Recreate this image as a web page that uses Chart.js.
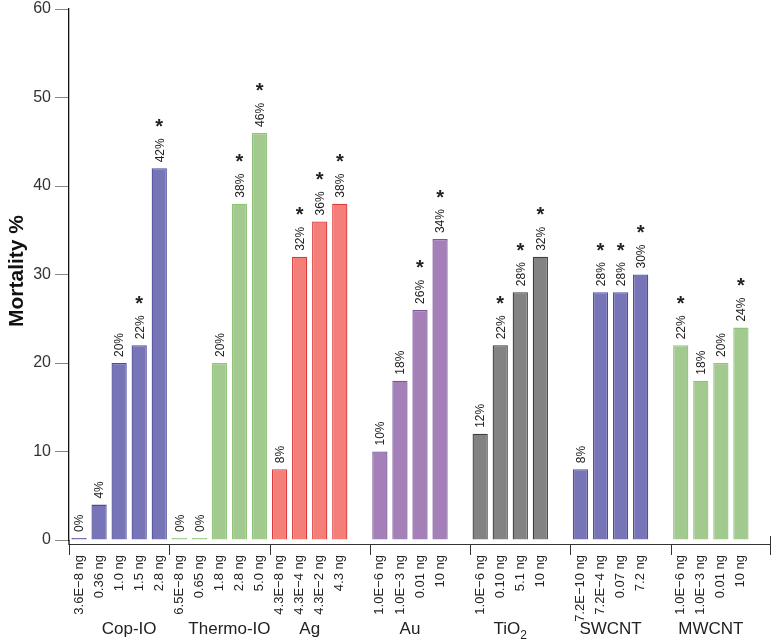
<!DOCTYPE html>
<html>
<head>
<meta charset="utf-8">
<script src="https://cdn.jsdelivr.net/npm/chart.js@4.4.1/dist/chart.umd.min.js"></script>
<style>
  body { margin: 0; background: #fff; }
  #caixa { width: 772px; height: 641px; }
</style>
</head>
<body>
<div id="caixa"><canvas id="graficoMortalidade"></canvas></div>
<script>
// grupos de nanomateriais
const grupos = ['Cop-IO', 'Thermo-IO', 'Ag', 'Au', 'TiO2', 'SWCNT', 'MWCNT']

// doses (rotulos do eixo x) por grupo
const dosesCopIO = ['3.6E\u22128 ng', '0.36 ng', '1.0 ng', '1.5 ng', '2.8 ng']
const dosesThermoIO = ['6.5E\u22128 ng', '0.65 ng', '1.8 ng', '2.8 ng', '5.0 ng']
const dosesAg = ['4.3E\u22128 ng', '4.3E\u22124 ng', '4.3E\u22122 ng', '4.3 ng']
const dosesAu = ['1.0E\u22126 ng', '1.0E\u22123 ng', '0.01 ng', '10 ng']
const dosesTiO2 = ['1.0E\u22126 ng', '0.10 ng', '5.1 ng', '10 ng']
const dosesSWCNT = ['7.2E\u221210 ng', '7.2E\u22124 ng', '0.07 ng', '7.2 ng']
const dosesMWCNT = ['1.0E\u22126 ng', '1.0E\u22123 ng', '0.01 ng', '10 ng']

// mortalidade %
const mortCopIO = [0, 4, 20, 22, 42]
const mortThermoIO = [0, 0, 20, 38, 46]
const mortAg = [8, 32, 36, 38]
const mortAu = [10, 18, 26, 34]
const mortTiO2 = [12, 22, 28, 32]
const mortSWCNT = [8, 28, 28, 30]
const mortMWCNT = [22, 18, 20, 24]

// diferenca significativa (*)
const sigCopIO = [0, 0, 0, 1, 1]
const sigThermoIO = [0, 0, 0, 1, 1]
const sigAg = [0, 1, 1, 1]
const sigAu = [0, 0, 1, 1]
const sigTiO2 = [0, 1, 1, 1]
const sigSWCNT = [0, 1, 1, 1]
const sigMWCNT = [1, 0, 0, 1]

const yTicks = [0, 10, 20, 30, 40, 50, 60]

const doses = [dosesCopIO, dosesThermoIO, dosesAg, dosesAu, dosesTiO2, dosesSWCNT, dosesMWCNT]
const mortalidade = [mortCopIO, mortThermoIO, mortAg, mortAu, mortTiO2, mortSWCNT, mortMWCNT]
const significativo = [sigCopIO, sigThermoIO, sigAg, sigAu, sigTiO2, sigSWCNT, sigMWCNT]

const corFundo = ['#7774b7', '#a2ca8e', '#f37f78', '#a580b8', '#848384', '#7774b7', '#a2ca8e']
const corBorda = ['#4b4a9c', '#90c47a', '#dc3a3c', '#7a559a', '#3e3e3e', '#4b50a6', '#90c47a']

const FONTE = '"Liberation Sans", Arial, sans-serif'
const SLOTS = 5
let labels = [], valores = [], fundos = [], bordas = [], estrelas = []
grupos.forEach((g, i) => {
    for (let k = 0; k < SLOTS; k++) {
        const tem = k < mortalidade[i].length
        labels.push(tem ? doses[i][k] : '')
        valores.push(tem ? mortalidade[i][k] : null)
        fundos.push(corFundo[i])
        bordas.push(corBorda[i])
        estrelas.push(tem ? significativo[i][k] : 0)
    }
})

const desenhos = {
    id: 'desenhos',
    afterDatasetsDraw(chart) {
        const ctx = chart.ctx
        const meta = chart.getDatasetMeta(0)
        ctx.save()
        ctx.fillStyle = '#222'
        meta.data.forEach((bar, i) => {
            const v = valores[i]
            if (v === null) return
            const topo = Math.min(bar.y, bar.base) - 6
            const texto = v + '%'
            ctx.font = '12px ' + FONTE
            const largura = ctx.measureText(texto).width
            ctx.save()
            ctx.translate(bar.x + 1, topo)
            ctx.rotate(-Math.PI / 2)
            ctx.textAlign = 'left'
            ctx.textBaseline = 'middle'
            ctx.fillText(texto, 0, 0)
            ctx.restore()
            if (estrelas[i]) {
                ctx.font = 'bold 20px ' + FONTE
                ctx.textAlign = 'center'
                ctx.textBaseline = 'middle'
                ctx.fillText('*', bar.x, topo - largura - 11)
            }
        })
        ctx.restore()
    },
    afterDraw(chart) {
        const ctx = chart.ctx
        const area = chart.chartArea
        const x = chart.scales.x
        const passo = (area.right - area.left) / labels.length
        const yEixo = area.bottom + 4
        ctx.save()
        ctx.strokeStyle = '#333'
        ctx.lineWidth = 1
        ctx.beginPath()
        ctx.moveTo(area.left, yEixo + 0.5)
        ctx.lineTo(area.right, yEixo + 0.5)
        for (let g = 0; g <= grupos.length; g++) {
            const px = Math.round(area.left + g * SLOTS * passo) + (g === grupos.length ? -0.5 : 0.5)
            ctx.moveTo(px, g === grupos.length ? area.bottom - 4 : yEixo)
            ctx.lineTo(px, yEixo + 11)
        }
        ctx.stroke()
        // prolonga o eixo y ate a linha do eixo x
        ctx.strokeStyle = '#111'
        ctx.lineWidth = 1.3
        ctx.beginPath()
        ctx.moveTo(area.left, area.bottom)
        ctx.lineTo(area.left, yEixo + 1)
        ctx.stroke()

        // nomes dos grupos
        ctx.fillStyle = '#222'
        ctx.textBaseline = 'middle'
        grupos.forEach((g, i) => {
            const n = mortalidade[i].length
            const c = x.getPixelForValue(i * SLOTS + Math.ceil(n / 2)) - passo / 2
            ctx.font = '17px ' + FONTE
            if (g === 'TiO2') {
                const w1 = ctx.measureText('TiO').width
                ctx.font = '12px ' + FONTE
                const w2 = ctx.measureText('2').width
                const ini = c - (w1 + w2) / 2
                ctx.font = '17px ' + FONTE
                ctx.textAlign = 'left'
                ctx.fillText('TiO', ini, 629)
                ctx.font = '12px ' + FONTE
                ctx.fillText('2', ini + w1, 636)
            } else {
                ctx.textAlign = 'center'
                ctx.fillText(g, c, 629)
            }
        })

        // titulo do eixo y
        ctx.font = 'bold 21px ' + FONTE
        ctx.fillStyle = '#111'
        ctx.translate(17, 271)
        ctx.rotate(-Math.PI / 2)
        ctx.textAlign = 'center'
        ctx.textBaseline = 'middle'
        ctx.fillText('Mortality %', 0, 0)
        ctx.restore()
    }
}

const grafico = new Chart(document.getElementById('graficoMortalidade'), {
    type: 'bar',
    data: {
        labels: labels,
        datasets: [{
            data: valores,
            backgroundColor: fundos,
            borderColor: bordas,
            borderWidth: 1.3,
            barPercentage: 0.76,
            categoryPercentage: 1,
            minBarLength: 2
        }]
    },
    options: {
        responsive: true,
        maintainAspectRatio: false,
        animation: false,
        layout: { padding: { top: 9, right: 1, left: 0, bottom: 0 } },
        plugins: {
            legend: { display: false },
            tooltip: { enabled: false }
        },
        scales: {
            x: {
                grid: { display: false },
                border: { display: false },
                ticks: {
                    autoSkip: false,
                    maxRotation: 90,
                    minRotation: 90,
                    padding: 7,
                    color: '#222',
                    font: { size: 13, family: FONTE }
                },
                afterFit: (scale) => {
                    scale.height = 101
                    scale.paddingLeft = 0
                    scale.paddingRight = 0
                }
            },
            y: {
                min: 0,
                max: 60,
                afterBuildTicks: (scale) => { scale.ticks = yTicks.map(v => ({ value: v })) },
                grid: { drawOnChartArea: false, drawTicks: true, tickLength: 14, color: '#888' },
                border: { display: true, color: '#111', width: 1.3 },
                ticks: {
                    padding: 4,
                    color: '#333',
                    font: { size: 16, family: FONTE }
                },
                afterFit: (scale) => {
                    scale.width = 69
                    scale.paddingTop = 0
                    scale.paddingBottom = 0
                }
            }
        }
    },
    plugins: [desenhos]
});
</script>
</body>
</html>
